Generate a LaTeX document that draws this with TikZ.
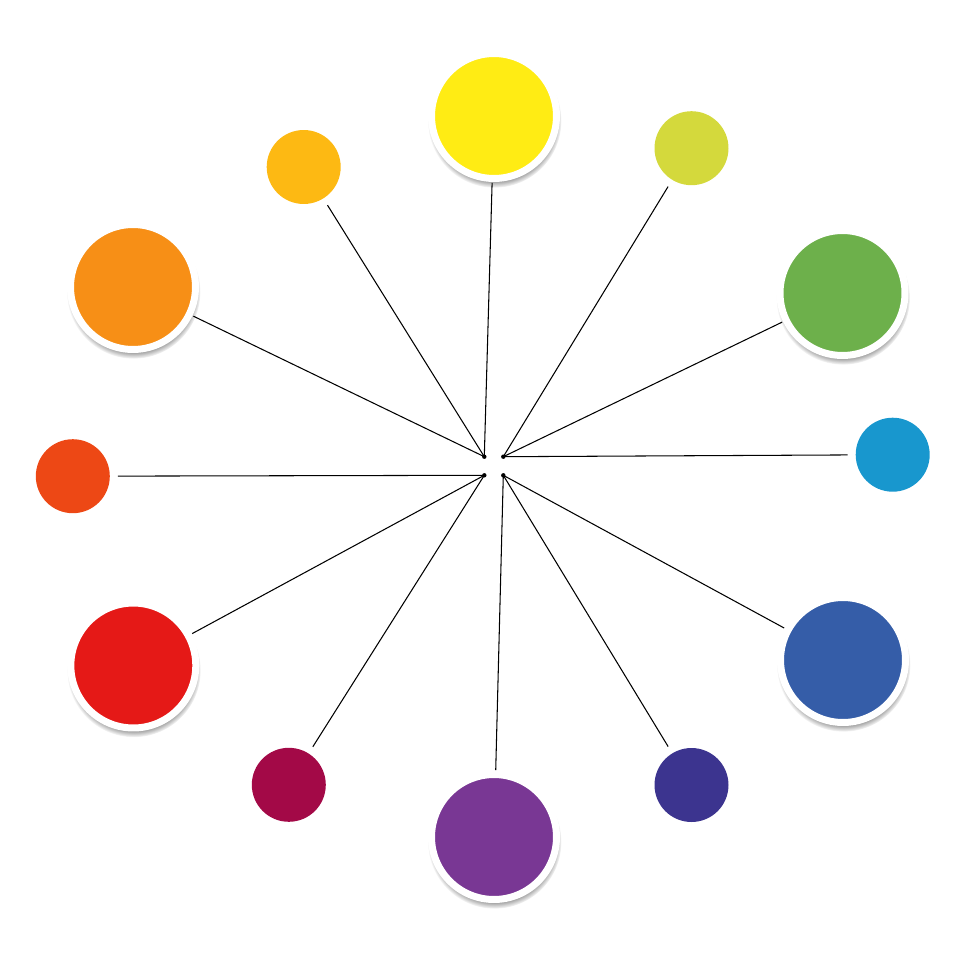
\documentclass[tikz,border=0pt]{standalone}
\usepackage{xcolor}
\usepackage{tikz}
\usetikzlibrary{shadows, fadings}
\definecolor{wheelyellow}{RGB}{255,236,20}
\definecolor{wheelamber}{RGB}{253,185,19}
\definecolor{wheellime}{RGB}{212,217,60}
\definecolor{wheelorange}{RGB}{247,143,22}
\definecolor{wheelgreen}{RGB}{109,176,75}
\definecolor{wheelvermilion}{RGB}{237,72,21}
\definecolor{wheelcyan}{RGB}{24,151,206}
\definecolor{wheelred}{RGB}{229,25,23}
\definecolor{wheelblue}{RGB}{53,93,168}
\definecolor{wheelmagenta}{RGB}{163,9,71}
\definecolor{wheelindigo}{RGB}{60,52,143}
\definecolor{wheelviolet}{RGB}{121,55,148}

\begin{document}
\begin{tikzpicture}[x=0.02cm,y=-0.02cm,
    bigdot/.style={circle,draw=white,line width=0.14cm,minimum size=2.5cm,inner sep=0pt,outer sep=0.09cm,
        circular drop shadow={shadow scale=1.07,shadow xshift=0.01cm,shadow yshift=-0.09cm,opacity=0.75,fill=black!75}},
    smalldot/.style={circle,minimum size=1.48cm,inner sep=0pt,outer sep=0.16cm},
    spoke/.style={line width=0.6pt,black}]
    \useasboundingbox (0,0) rectangle (960,960);

    % Cerchi grandi
    \node[bigdot,fill=wheelyellow] (yellow) at (494,116) {};
    \node[bigdot,fill=wheelorange] (orange) at (133,287) {};
    \node[bigdot,fill=wheelgreen] (green) at (842.5,293) {};
    \node[bigdot,fill=wheelred] (red) at (133.3,665.5) {};
    \node[bigdot,fill=wheelblue] (blue) at (843,660) {};
    \node[bigdot,fill=wheelviolet] (violet) at (494,837) {};

    % Cerchi piccoli
    \node[smalldot,fill=wheelamber] (amber) at (303.7,167) {};
    \node[smalldot,fill=wheellime] (lime) at (691.5,148.2) {};
    \node[smalldot,fill=wheelvermilion] (vermilion) at (72.8,476.2) {};
    \node[smalldot,fill=wheelcyan] (cyan) at (892.7,454.7) {};
    \node[smalldot,fill=wheelmagenta] (magenta) at (288.8,784.8) {};
    \node[smalldot,fill=wheelindigo] (indigo) at (691.5,785) {};

    % Centro
    \coordinate (ul) at (484.3,456.7);
    \coordinate (ur) at (503.3,456.7);
    \coordinate (ll) at (484.3,475.3);
    \coordinate (lr) at (503.3,475.3);

    % Linee
    \draw[spoke] (yellow) -- (ul);
    \draw[spoke] (amber) -- (ul);
    \draw[spoke] (orange) -- (ul);
    \draw[spoke] (lime) -- (ur);
    \draw[spoke] (green) -- (ur);
    \draw[spoke] (cyan) -- (ur);
    \draw[spoke] (vermilion) -- (ll);
    \draw[spoke] (red) -- (ll);
    \draw[spoke] (magenta) -- (ll);
    \draw[spoke] (violet) -- (lr);
    \draw[spoke] (indigo) -- (lr);
    \draw[spoke] (blue) -- (lr);

    % Punti
    \fill (ul) circle (2.2);
    \fill (ur) circle (2.2);
    \fill (ll) circle (2.2);
    \fill (lr) circle (2.2);
\end{tikzpicture}
\end{document}
